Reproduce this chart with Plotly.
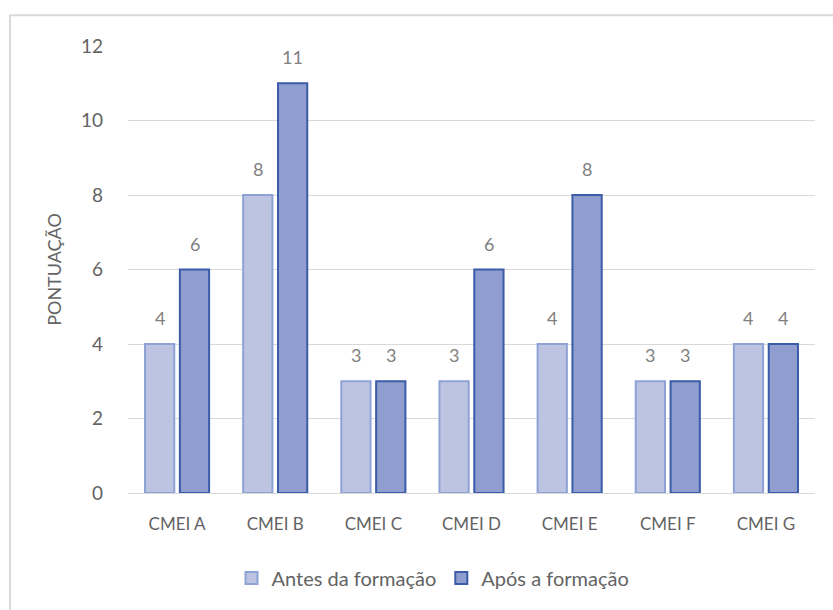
import plotly.graph_objects as go

categories = ["CMEI A", "CMEI B", "CMEI C", "CMEI D", "CMEI E", "CMEI F", "CMEI G"]
antes = [4, 8, 3, 3, 4, 3, 4]
apos = [6, 11, 3, 6, 8, 3, 4]
series_names = ["Antes da formação", "Após a formação"]
y_ticks = [0, 2, 4, 6, 8, 10, 12]

FONT = "Lato, 'Open Sans', sans-serif"
LABEL_FONT = dict(family=FONT, size=18, color="#808080")

fig = go.Figure()
fig.add_trace(go.Bar(
    x=categories, y=antes, name=series_names[0],
    marker=dict(color="#bcc4e2", line=dict(color="#8ea2d6", width=2)),
))
fig.add_trace(go.Bar(
    x=categories, y=apos, name=series_names[1],
    marker=dict(color="#8f9ecf", line=dict(color="#3b5ca8", width=2)),
))

# data labels placed through the axes' scales, shifted onto each bar of the group
annotations = []
for series, shift in ((antes, -17.5), (apos, 17.5)):
    for cat, val in zip(categories, series):
        annotations.append(dict(
            x=cat, y=val, xref="x", yref="y", text=str(val), showarrow=False,
            xshift=shift, yshift=26, yanchor="middle", font=LABEL_FONT,
        ))

fig.update_layout(
    width=833, height=610,
    margin=dict(l=128, r=18, t=46, b=115),
    paper_bgcolor="white", plot_bgcolor="white",
    barmode="group", bargap=0.29, bargroupgap=0.16,
    font=dict(family=FONT, color="#636363"),
    showlegend=True,
    legend=dict(orientation="h", x=0.444, xanchor="center", y=-0.19, yanchor="middle",
                font=dict(size=20, color="#636363"), itemwidth=30,
                traceorder="normal"),
    xaxis=dict(showgrid=False, showline=False, ticks="", ticklabelstandoff=19,
               tickfont=dict(size=17, color="#636363")),
    yaxis=dict(range=[0, 12], tickvals=y_ticks, showgrid=True, gridcolor="#d9d9d9",
               gridwidth=1, zeroline=True, zerolinecolor="#d9d9d9", zerolinewidth=1,
               showline=False, ticks="", ticklen=0, ticklabelstandoff=24,
               tickfont=dict(size=19, color="#636363"),
               title=dict(text="PONTUAÇÃO", font=dict(size=18, color="#636363"), standoff=14)),
    annotations=annotations,
    shapes=[dict(type="rect", xref="paper", yref="paper",
                 x0=-0.1718, x1=1.06, y0=-0.3, y1=1.069,
                 line=dict(color="#d9d9d9", width=2), fillcolor="rgba(0,0,0,0)",
                 layer="below")],
)

fig.write_html("out.html")
